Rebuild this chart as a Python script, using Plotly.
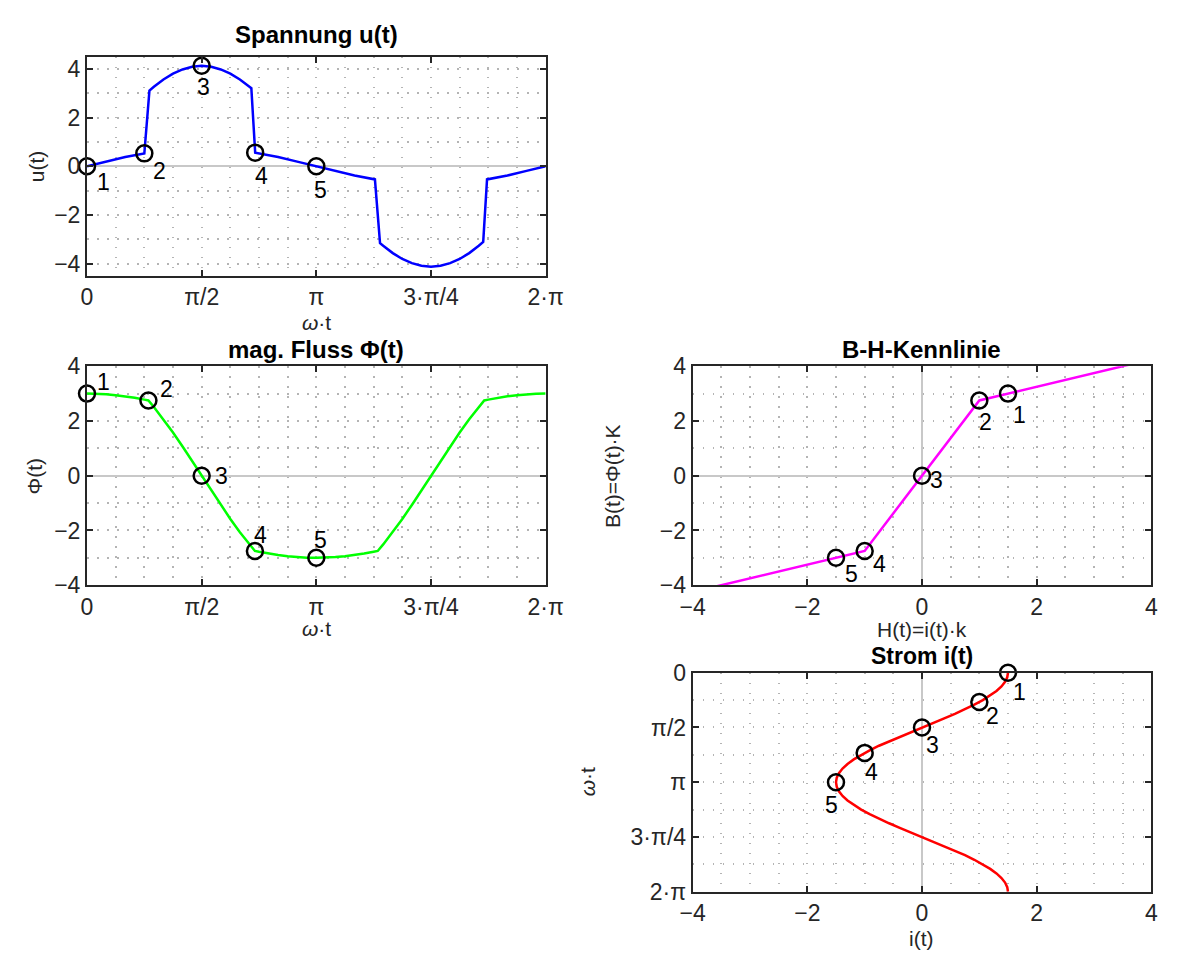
import math
import plotly.graph_objects as go

W, H = 1181, 966
PI = math.pi

# ---------------- data ----------------
# voltage u(t); time in degrees of omega*t
t_u_deg = [0, 15, 30, 45, 49, 52.5, 60, 67.5, 75, 82.5, 90, 97.5, 105, 112.5, 120, 127.5, 129, 132,
           150, 165, 180, 195, 210, 226, 230, 232.5, 240, 247.5, 255, 262.5, 270, 277.5, 285,
           292.5, 300, 307.5, 311, 314, 330, 345, 360]
u_vals = [0, 0.19, 0.38, 0.53, 3.11, 3.27, 3.57, 3.81, 3.98, 4.09, 4.13, 4.09, 3.98, 3.81, 3.57, 3.27, 3.21, 0.56,
          0.38, 0.19, 0, -0.19, -0.38, -0.54, -3.16, -3.27, -3.57, -3.81, -3.98, -4.09, -4.13, -4.09, -3.98,
          -3.81, -3.57, -3.27, -3.11, -0.54, -0.38, -0.19, 0]

# magnetic flux Phi(t)
t_phi_deg = [0, 7.5, 15, 22.5, 30, 37.5, 45, 48.2, 52.5, 60, 67.5, 75, 82.5, 90,
             97.5, 105, 112.5, 120, 127.5, 131.8, 135, 142.5, 150, 157.5, 165, 172.5, 180,
             187.5, 195, 202.5, 210, 217.5, 225, 228.2, 232.5, 240, 247.5, 255, 262.5, 270,
             277.5, 285, 292.5, 300, 307.5, 311.8, 315, 322.5, 330, 337.5, 345, 352.5, 360]
phi_vals = [3.0, 2.994, 2.974, 2.943, 2.9, 2.845, 2.78, 2.75, 2.511, 2.063, 1.579, 1.068, 0.538, 0,
            -0.538, -1.068, -1.579, -2.063, -2.511, -2.75, -2.78, -2.845, -2.9, -2.943, -2.974, -2.994, -3.0,
            -2.994, -2.974, -2.943, -2.9, -2.845, -2.78, -2.75, -2.511, -2.063, -1.579, -1.068, -0.538, 0,
            0.538, 1.068, 1.579, 2.063, 2.511, 2.75, 2.78, 2.845, 2.9, 2.943, 2.974, 2.994, 3.0]

# current i(t)
t_i_deg = [0, 7.5, 15, 22.5, 30, 37.5, 45, 52.5, 60, 67.5, 75, 82.5, 90,
           97.5, 105, 112.5, 120, 127.5, 135, 142.5, 150, 157.5, 165, 172.5, 180,
           187.5, 195, 202.5, 210, 217.5, 225, 232.5, 240, 247.5, 255, 262.5, 270,
           277.5, 285, 292.5, 300, 307.5, 315, 322.5, 330, 337.5, 345, 352.5, 360]
i_vals = [1.5, 1.487, 1.449, 1.386, 1.299, 1.19, 1.061, 0.913, 0.75, 0.574, 0.388, 0.196, 0,
          -0.196, -0.388, -0.574, -0.75, -0.913, -1.061, -1.19, -1.299, -1.386, -1.449, -1.487, -1.5,
          -1.487, -1.449, -1.386, -1.299, -1.19, -1.061, -0.913, -0.75, -0.574, -0.388, -0.196, 0,
          0.196, 0.388, 0.574, 0.75, 0.913, 1.061, 1.19, 1.299, 1.386, 1.449, 1.487, 1.5]

# B-H characteristic (piecewise linear)
H_bh = [-4.0, -1.0, 1.0, 4.0]
B_bh = [-4.25, -2.75, 2.75, 4.25]

# marked operating points 1..5
pt_labels = ["1", "2", "3", "4", "5"]
pt_u_t_deg = [0, 45, 90, 132, 180]
pt_u_vals = [0, 0.53, 4.13, 0.56, 0]
pt_t_deg = [0, 48.2, 90, 131.8, 180]
pt_phi_vals = [3.0, 2.75, 0, -2.75, -3.0]
pt_i_vals = [1.5, 1.0, 0, -1.0, -1.5]

# tick labels
t_ticks_pi = [0, 0.5, 1, 1.5, 2]
t_ticktext = ["0", "π/2", "π", "3·π/4", "2·π"]
val_ticks = [-4, -2, 0, 2, 4]

# ---------------- helpers ----------------
def rad(lst):
    return [d * PI / 180.0 for d in lst]

FONT = "Liberation Sans, Arial, Helvetica, sans-serif"
AX = "#262626"
GRID = "#b4b4b4"
DASH = "1.5px,8.5px"
TICK_FS = 23
LAB_FS = 21
TITLE_FS = 24
NUM_FS = 23

def px_x(x):
    return x / W

def px_y(y):
    return 1 - y / H

col1 = [px_x(76), px_x(547)]
col2 = [px_x(698), px_x(1169)]
row1 = [px_y(270), px_y(45)]
row2 = [px_y(588), px_y(363)]
row3 = [px_y(903), px_y(678)]

def axis(domain, anchor, rng, tickvals, ticktext=None, minor_vals=None, zeroline=False):
    d = dict(domain=domain, anchor=anchor, range=rng,
             tickmode="array", tickvals=tickvals,
             showline=True, linecolor=AX, linewidth=2, mirror="ticks",
             ticks="inside", ticklen=6, tickwidth=2, tickcolor=AX,
             tickfont=dict(family=FONT, size=TICK_FS, color=AX),
             showgrid=True, gridcolor=GRID, gridwidth=1.5, griddash=DASH,
             zeroline=zeroline, zerolinecolor="#c8c8c8", zerolinewidth=2,
             fixedrange=True)
    if ticktext is not None:
        d["ticktext"] = ticktext
    if minor_vals is not None:
        d["minor"] = dict(tickmode="array", tickvals=minor_vals, showgrid=True,
                          gridcolor=GRID, gridwidth=1.5, griddash=DASH, ticks="")
    return d

t_tickvals = [k * PI for k in t_ticks_pi]
t_minor8 = [k * PI / 8 for k in range(17)]
t_minor4 = [k * PI / 4 for k in range(9)]
unit_minor = list(range(-4, 5))
half_minor = [k * 0.5 for k in range(-8, 9)]

fig = go.Figure()

LW = 2.5
MK = dict(symbol="circle-open", size=16, color="black", line=dict(width=2.5, color="black"))

# plot 1: u(t)
fig.add_trace(go.Scatter(x=rad(t_u_deg), y=u_vals, mode="lines",
                         line=dict(color="#0000ff", width=LW), xaxis="x", yaxis="y"))
fig.add_trace(go.Scatter(x=rad(pt_u_t_deg), y=pt_u_vals, mode="markers", marker=MK,
                         xaxis="x", yaxis="y", cliponaxis=False))
# plot 2: Phi(t)
fig.add_trace(go.Scatter(x=rad(t_phi_deg), y=phi_vals, mode="lines",
                         line=dict(color="#00ff00", width=LW), xaxis="x2", yaxis="y2"))
fig.add_trace(go.Scatter(x=rad(pt_t_deg), y=pt_phi_vals, mode="markers", marker=MK,
                         xaxis="x2", yaxis="y2", cliponaxis=False))
# plot 3: B-H
fig.add_trace(go.Scatter(x=H_bh, y=B_bh, mode="lines",
                         line=dict(color="#ff00ff", width=LW), xaxis="x3", yaxis="y3"))
fig.add_trace(go.Scatter(x=pt_i_vals, y=pt_phi_vals, mode="markers", marker=MK,
                         xaxis="x3", yaxis="y3", cliponaxis=False))
# plot 4: i(t)
fig.add_trace(go.Scatter(x=i_vals, y=rad(t_i_deg), mode="lines",
                         line=dict(color="#ff0000", width=LW), xaxis="x4", yaxis="y4"))
fig.add_trace(go.Scatter(x=pt_i_vals, y=rad(pt_t_deg), mode="markers", marker=MK,
                         xaxis="x4", yaxis="y4", cliponaxis=False))

layout = dict(
    width=W, height=H, autosize=False, showlegend=False,
    margin=dict(l=0, r=0, t=0, b=0, pad=0),
    paper_bgcolor="white", plot_bgcolor="white",
    xaxis=axis(col1, "y", [0, 2 * PI], t_tickvals, t_ticktext, t_minor8),
    yaxis=axis(row1, "x", [-4.5, 4.5], val_ticks, None, unit_minor, zeroline=True),
    xaxis2=axis(col1, "y2", [0, 2 * PI], t_tickvals, t_ticktext, t_minor8),
    yaxis2=axis(row2, "x2", [-4, 4], val_ticks, None, unit_minor, zeroline=True),
    xaxis3=axis(col2, "y3", [-4, 4], val_ticks, None, half_minor, zeroline=True),
    yaxis3=axis(row2, "x3", [-4, 4], val_ticks, None, unit_minor, zeroline=True),
    xaxis4=axis(col2, "y4", [-4, 4], val_ticks, None, half_minor, zeroline=True),
    yaxis4=axis(row3, "x4", [2 * PI, 0], t_tickvals, t_ticktext, t_minor4),
)
fig.update_layout(**layout)

ann = []
def text(x, y, s, size=LAB_FS, bold=False, angle=0, color=AX):
    ann.append(dict(x=px_x(x), y=px_y(y), xref="paper", yref="paper", showarrow=False,
                    text=("<b>%s</b>" % s) if bold else s, textangle=angle,
                    font=dict(family=FONT, size=size, color=color),
                    xanchor="center", yanchor="middle"))

# titles
text(311.5, 22, "Spannung u(t)", TITLE_FS, True, color="black")
text(311.5, 346, "mag. Fluss Φ(t)", TITLE_FS, True, color="black")
text(933.5, 346, "B-H-Kennlinie", TITLE_FS, True, color="black")
text(933.5, 661, "Strom i(t)", 23, True, color="black")
# axis labels
text(311.5, 318, "<i>ω</i>·t")
text(311.5, 633, "<i>ω</i>·t")
text(933.5, 634, "H(t)=i(t)·k")
text(933.5, 951, "i(t)")
text(24, 157, "u(t)", angle=-90)
text(22, 476, "Φ(t)", angle=-90)
text(615, 476, "B(t)=Φ(t)·K", angle=-90)
text(590, 790, "<i>ω</i>·t", angle=-90)

# point number labels (offsets in px)
def point_labels(xs, ys, xref, yref, offs):
    for lab, x, y, (dx, dy) in zip(pt_labels, xs, ys, offs):
        ann.append(dict(x=x, y=y, xref=xref, yref=yref, showarrow=False, text=lab,
                        xshift=dx, yshift=dy, font=dict(family=FONT, size=NUM_FS, color="black"),
                        xanchor="center", yanchor="middle"))

point_labels(rad(pt_u_t_deg), pt_u_vals, "x", "y",
             [(16, -16), (15, -18), (2, -21), (6, -23), (4, -24)])
point_labels(rad(pt_t_deg), pt_phi_vals, "x2", "y2",
             [(16, 12), (18, 11), (20, 0), (6, 16), (4, 18)])
point_labels(pt_i_vals, pt_phi_vals, "x3", "y3",
             [(12, -21), (6, -22), (15, -4), (15, -13), (16, -16)])
point_labels(pt_i_vals, rad(pt_t_deg), "x4", "y4",
             [(12, -19), (13, -14), (11, -18), (7, -19), (-4, -23)])

fig.update_layout(annotations=ann)
fig.write_html("out.html")
